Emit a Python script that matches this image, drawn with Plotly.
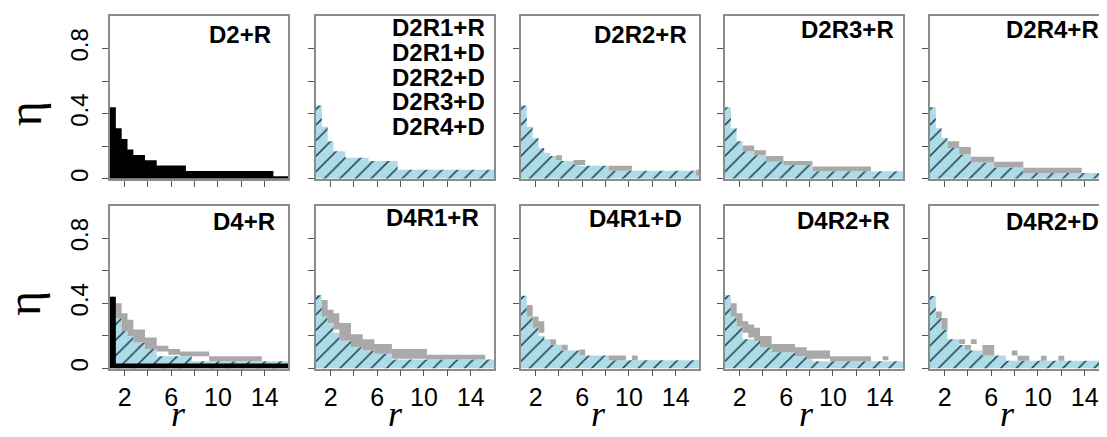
import plotly.graph_objects as go
from plotly.subplots import make_subplots

# ---------------- data (r = rank, eta = fraction) ----------------
R_TICKS = [2, 4, 6, 8, 10, 12, 14]
R_TICK_TEXT = ["2", "", "6", "", "10", "", "14"]
ETA_TICKS = [0, 0.2, 0.4, 0.6, 0.8]
ETA_TICK_TEXT = ["0", "", "0.4", "", "0.8"]

PANEL_NAMES = ["D2+R", "D2R1+R", "D2R2+R", "D2R3+R", "D2R4+R",
               "D4+R", "D4R1+R", "D4R1+D", "D4R2+R", "D4R2+D"]
PANEL2_EXTRA = ["D2R1+D", "D2R2+D", "D2R3+D", "D2R4+D"]

# black step distributions (edges, heights)
D2R_black_edges = [0.75, 1.25, 1.75, 2.25, 2.75, 3.75, 4.75, 7.25, 14.75, 16.0]
D2R_black_eta = [0.44, 0.31, 0.245, 0.18, 0.146, 0.114, 0.082, 0.048, 0.016]
D4R_black_edges = [0.75, 1.25, 16.0]
D4R_black_eta = [0.44, 0.03]

# light-blue hatched step distributions (edges, heights)
D2R1R_blue_edges = [0.75, 1.25, 1.75, 2.25, 3.25, 5.25, 7.75, 16.0]
D2R1R_blue_eta = [0.45, 0.32, 0.23, 0.17, 0.13, 0.11, 0.055]
D2R2R_blue_edges = [0.75, 1.25, 1.75, 2.25, 2.75, 3.25, 4.25, 5.75, 8.25, 16.0]
D2R2R_blue_eta = [0.45, 0.32, 0.25, 0.19, 0.16, 0.14, 0.11, 0.08, 0.05]
D2R3R_blue_edges = [0.75, 1.25, 1.75, 2.25, 3.25, 4.25, 5.75, 8.25, 16.0]
D2R3R_blue_eta = [0.44, 0.31, 0.23, 0.17, 0.145, 0.105, 0.085, 0.046]
D2R4R_blue_edges = [0.75, 1.25, 1.75, 2.25, 3.25, 4.25, 6.25, 8.75, 16.0]
D2R4R_blue_eta = [0.44, 0.31, 0.25, 0.19, 0.15, 0.10, 0.07, 0.036]
D4R_blue_edges = [0.75, 1.25, 1.75, 2.25, 2.75, 3.75, 4.75, 7.75, 16.0]
D4R_blue_eta = [0.44, 0.31, 0.23, 0.20, 0.16, 0.12, 0.075, 0.045]
D4R1R_blue_edges = [0.75, 1.25, 1.75, 2.25, 2.75, 3.75, 4.75, 5.75, 7.25, 16.0]
D4R1R_blue_eta = [0.45, 0.36, 0.28, 0.22, 0.17, 0.13, 0.11, 0.09, 0.055]
D4R1D_blue_edges = [0.75, 1.25, 1.75, 2.25, 2.75, 3.25, 4.25, 5.75, 8.25, 16.0]
D4R1D_blue_eta = [0.446, 0.32, 0.25, 0.20, 0.18, 0.146, 0.11, 0.08, 0.05]
D4R2R_blue_edges = [0.75, 1.25, 1.75, 2.25, 2.75, 3.75, 4.75, 6.75, 8.25, 16.0]
D4R2R_blue_eta = [0.45, 0.35, 0.27, 0.18, 0.18, 0.13, 0.10, 0.075, 0.045]
D4R2D_blue_edges = [0.75, 1.25, 1.75, 2.25, 3.25, 4.25, 5.25, 7.25, 16.0]
D4R2D_blue_eta = [0.445, 0.31, 0.24, 0.18, 0.145, 0.11, 0.08, 0.047]

# gray cells: (r_start, r_end, eta_low, eta_high)
D2R2R_gray = [(3.75, 4.25, 0.115, 0.145), (5.25, 6.25, 0.085, 0.115),
              (8.25, 10.25, 0.05, 0.08), (15.75, 16.0, 0.02, 0.055)]
D2R3R_gray = [(2.25, 3.25, 0.17, 0.205), (3.25, 4.25, 0.145, 0.175),
              (4.25, 5.75, 0.105, 0.14), (5.75, 8.25, 0.085, 0.11),
              (8.25, 13.25, 0.046, 0.075)]
D2R4R_gray = [(2.25, 3.25, 0.19, 0.23), (3.25, 4.25, 0.15, 0.195),
              (4.25, 6.25, 0.10, 0.135), (6.25, 8.75, 0.07, 0.105),
              (8.75, 13.75, 0.036, 0.068)]
D4R_gray = [(1.25, 1.75, 0.31, 0.40), (1.75, 2.25, 0.23, 0.34),
            (2.25, 2.75, 0.20, 0.30), (2.75, 3.75, 0.16, 0.24),
            (3.75, 4.75, 0.12, 0.19), (4.75, 5.75, 0.105, 0.14),
            (5.75, 6.75, 0.085, 0.12), (6.75, 9.25, 0.075, 0.105),
            (9.25, 13.75, 0.045, 0.075)]
D4R1R_gray = [(1.25, 1.75, 0.32, 0.42), (1.75, 2.25, 0.28, 0.36),
              (2.25, 2.75, 0.24, 0.34), (2.75, 3.75, 0.17, 0.28),
              (3.75, 4.75, 0.13, 0.21), (4.75, 5.75, 0.11, 0.18),
              (5.75, 7.25, 0.09, 0.15), (7.25, 10.25, 0.06, 0.12),
              (10.25, 15.25, 0.055, 0.085)]
D4R1D_gray = [(1.25, 1.75, 0.32, 0.39), (1.75, 2.25, 0.25, 0.32),
              (2.25, 2.75, 0.22, 0.29), (3.25, 3.75, 0.146, 0.18),
              (4.25, 4.75, 0.11, 0.146), (5.75, 6.25, 0.08, 0.116),
              (8.25, 9.75, 0.05, 0.08), (10.25, 10.75, 0.05, 0.08)]
D4R2R_gray = [(1.25, 1.75, 0.32, 0.40), (1.75, 2.25, 0.26, 0.34),
              (2.25, 2.75, 0.22, 0.29), (2.75, 3.25, 0.19, 0.27),
              (3.25, 3.75, 0.17, 0.25), (3.75, 4.75, 0.13, 0.20),
              (4.75, 6.75, 0.10, 0.15), (6.75, 7.75, 0.075, 0.13),
              (7.75, 9.75, 0.06, 0.11), (9.75, 13.25, 0.045, 0.075),
              (14.25, 14.75, 0.05, 0.075)]
D4R2D_gray = [(1.25, 1.75, 0.31, 0.35), (1.75, 2.25, 0.24, 0.31),
              (3.25, 3.75, 0.15, 0.18), (3.75, 4.25, 0.115, 0.145),
              (4.25, 4.75, 0.15, 0.18), (5.25, 6.25, 0.08, 0.145),
              (7.75, 8.25, 0.08, 0.11), (8.25, 9.25, 0.047, 0.078),
              (10.25, 10.75, 0.047, 0.078), (11.75, 12.25, 0.047, 0.078)]

# panel contents: (blue edges, blue eta, gray cells, black edges, black eta)
PANELS = [
    (None, None, None, D2R_black_edges, D2R_black_eta),
    (D2R1R_blue_edges, D2R1R_blue_eta, None, None, None),
    (D2R2R_blue_edges, D2R2R_blue_eta, D2R2R_gray, None, None),
    (D2R3R_blue_edges, D2R3R_blue_eta, D2R3R_gray, None, None),
    (D2R4R_blue_edges, D2R4R_blue_eta, D2R4R_gray, None, None),
    (D4R_blue_edges, D4R_blue_eta, D4R_gray, D4R_black_edges, D4R_black_eta),
    (D4R1R_blue_edges, D4R1R_blue_eta, D4R1R_gray, None, None),
    (D4R1D_blue_edges, D4R1D_blue_eta, D4R1D_gray, None, None),
    (D4R2R_blue_edges, D4R2R_blue_eta, D4R2R_gray, None, None),
    (D4R2D_blue_edges, D4R2D_blue_eta, D4R2D_gray, None, None),
]

# ---------------- style / layout ----------------
W, H = 1107, 437
LEFTS = [102, 308, 513, 717, 922]
PW = 178
ROW_Y = [(8, 172), (199, 363)]
BLUE = "#acdce8"
HATCH = "#1d3a44"
GRAY = "#a9a9a9"
FRAME = "#8c8c8c"
SANS = "Liberation Sans, Arial, sans-serif"
SERIF = "Liberation Serif, Times New Roman, serif"
R_TITLE_POS = [6.6, 7.6, 7.35, 7.7, 7.4]


def step_xy(edges, eta):
    return list(edges), list(eta) + [eta[-1]]


def cells_xy(cells):
    xs, ys = [], []
    for r0, r1, lo, hi in cells:
        xs += [r0, r1, r1, r0, r0, None]
        ys += [lo, lo, hi, hi, lo, None]
    return xs, ys


fig = make_subplots(rows=2, cols=5)

for i, (be, bv, gc, ke, kv) in enumerate(PANELS):
    row, col = i // 5 + 1, i % 5 + 1
    if be is not None:
        x, y = step_xy(be, bv)
        fig.add_trace(go.Scatter(
            x=x, y=y, mode="lines", line=dict(shape="hv", width=0, color=BLUE),
            fill="tozeroy", fillcolor=BLUE,
            fillpattern=dict(shape="/", fgcolor=HATCH, bgcolor=BLUE,
                             size=11, solidity=0.14, fillmode="replace"),
            hoverinfo="skip", showlegend=False), row=row, col=col)
    if gc is not None:
        x, y = cells_xy(gc)
        fig.add_trace(go.Scatter(
            x=x, y=y, mode="lines", line=dict(width=0, color=GRAY),
            fill="toself", fillcolor=GRAY,
            hoverinfo="skip", showlegend=False), row=row, col=col)
    if ke is not None:
        x, y = step_xy(ke, kv)
        fig.add_trace(go.Scatter(
            x=x, y=y, mode="lines", line=dict(shape="hv", width=0, color="black"),
            fill="tozeroy", fillcolor="black",
            hoverinfo="skip", showlegend=False), row=row, col=col)

annotations = []
for i in range(10):
    row, col = i // 5, i % 5
    k = "" if i == 0 else str(i + 1)
    x0 = LEFTS[col] / W
    x1 = (LEFTS[col] + PW) / W
    ytop, ybot = ROW_Y[row]
    fig.layout["xaxis" + k].update(
        domain=[x0, x1], range=[0.75, 16], tickvals=R_TICKS, ticktext=R_TICK_TEXT,
        ticks="outside", ticklen=6, tickwidth=1, tickcolor="#555",
        showticklabels=(row == 1), ticklabelstandoff=0,
        tickfont=dict(family=SANS, size=25, color="black"),
        showline=True, mirror=True, linecolor=FRAME, linewidth=1.5,
        showgrid=False, zeroline=False)
    fig.layout["yaxis" + k].update(
        domain=[1 - ybot / H, 1 - ytop / H], range=[0, 1],
        tickvals=ETA_TICKS, ticktext=ETA_TICK_TEXT, tickangle=-90,
        ticks="outside", ticklen=6, tickwidth=1, tickcolor="#555",
        showticklabels=(col == 0), ticklabelstandoff=5,
        tickfont=dict(family=SANS, size=24, color="black"),
        showline=True, mirror=True, linecolor=FRAME, linewidth=1.5,
        showgrid=False, zeroline=False)

# panel labels (right edge px, centre y px)
LABEL_POS = [(265, 27), (479, 20), (681, 27), (888, 22), (1093, 22),
             (269, 215), (473, 211), (676, 212), (884, 214), (1093, 215)]
for name, (xr, yc) in zip(PANEL_NAMES, LABEL_POS):
    annotations.append(dict(text="<b>%s</b>" % name, x=xr / W, y=1 - yc / H,
                            xref="paper", yref="paper", xanchor="right",
                            yanchor="middle", showarrow=False,
                            font=dict(family=SANS, size=24, color="black")))
for j, name in enumerate(PANEL2_EXTRA):
    yc = 20 + 24.8 * (j + 1)
    annotations.append(dict(text="<b>%s</b>" % name, x=479 / W, y=1 - yc / H,
                            xref="paper", yref="paper", xanchor="right",
                            yanchor="middle", showarrow=False,
                            font=dict(family=SANS, size=24, color="black")))

# eta axis titles
for yc in (107, 298):
    annotations.append(dict(text="\u03b7", x=16 / W, y=1 - yc / H,
                            xref="paper", yref="paper", xanchor="center",
                            yanchor="middle", textangle=-90, showarrow=False,
                            font=dict(family=SERIF, size=48, color="black")))
# r axis titles
for col in range(5):
    k = str(6 + col)
    annotations.append(dict(text="<i>r</i>", x=R_TITLE_POS[col], y=1 - 409 / H,
                            xref="x" + k, yref="paper", xanchor="center",
                            yanchor="middle", showarrow=False,
                            font=dict(family=SERIF, size=36, color="black")))

fig.update_layout(width=W, height=H, autosize=False,
                  margin=dict(l=0, r=0, t=0, b=0),
                  paper_bgcolor="white", plot_bgcolor="white",
                  showlegend=False, annotations=annotations)

fig.write_html("out.html")
